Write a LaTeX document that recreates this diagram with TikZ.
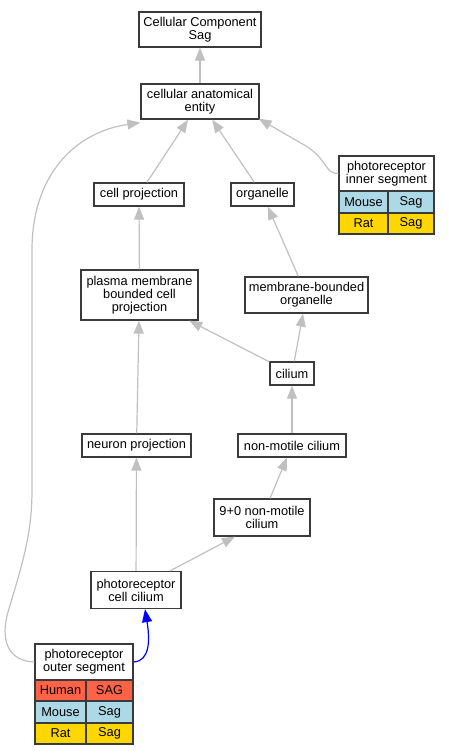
\documentclass[tikz,border=0pt]{standalone}
\usepackage{fontspec}
\setmainfont{Liberation Sans}
\usetikzlibrary{arrows.meta}
\definecolor{edgegray}{HTML}{C0C0C0}
\definecolor{boxline}{HTML}{3A3A3A}
\definecolor{human}{HTML}{FF6347}
\definecolor{mouse}{HTML}{ADD8E6}
\definecolor{rat}{HTML}{FFD700}
\begin{document}
\begin{tikzpicture}[x=1pt,y=-1pt,
  box/.style={draw=boxline, line width=1.3pt, fill=white, inner sep=0pt, align=center,
    font=\fontsize{12.8}{13}\selectfont},
  cell/.style={box, fill=#1},
  edge/.style={draw=edgegray, line width=1.2pt, -{Triangle[length=13pt,width=10pt]}},
  isa/.style={draw=blue, line width=1.2pt, -{Triangle[length=13pt,width=10pt]}, color=blue}]
\useasboundingbox (0,0) rectangle (449,755);
% nodes
\node[box, minimum width=122pt, minimum height=35pt] (cc) at (200,29.5) {Cellular Component\\Sag};
\node[box, minimum width=118pt, minimum height=35pt] (cae) at (200,101.5) {cellular anatomical\\entity};
\node[box, minimum width=90pt, minimum height=23pt] (cp) at (139,194.5) {cell projection};
\node[box, minimum width=63pt, minimum height=23pt] (org) at (262.5,194.5) {organelle};
% photoreceptor inner segment table
\node[box, minimum width=95pt, minimum height=35pt] (pis) at (386.5,173.5) {photoreceptor\\inner segment};
\node[cell=mouse, minimum width=49pt, minimum height=22pt] (pism1) at (363.5,202) {Mouse};
\node[cell=mouse, minimum width=46pt, minimum height=22pt] (pism2) at (411,202) {Sag};
\node[cell=rat, minimum width=49pt, minimum height=21pt] (pisr1) at (363.5,223.5) {Rat};
\node[cell=rat, minimum width=46pt, minimum height=21pt] (pisr2) at (411,223.5) {Sag};
\node[box, minimum width=117pt, minimum height=50pt] (pmb) at (139.5,295) {plasma membrane\\bounded cell\\projection};
\node[box, minimum width=123pt, minimum height=36pt] (mbo) at (306.5,295) {membrane-bounded\\organelle};
\node[box, minimum width=44pt, minimum height=23pt] (cil) at (292,373.5) {cilium};
\node[box, minimum width=109pt, minimum height=23pt] (np) at (136.5,445.5) {neuron projection};
\node[box, minimum width=108pt, minimum height=23pt] (nmc) at (292,445.5) {non-motile cilium};
\node[box, minimum width=96pt, minimum height=37pt] (nine) at (262,517.5) {9+0 non-motile\\cilium};
\node[box, minimum width=90pt, minimum height=37pt] (pcc) at (136,590) {photoreceptor\\cell cilium};
% photoreceptor outer segment table
\node[box, minimum width=98pt, minimum height=36pt] (pos) at (84,662) {photoreceptor\\outer segment};
\node[cell=human, minimum width=51pt, minimum height=21pt] (posh1) at (60.5,690.5) {Human};
\node[cell=human, minimum width=47pt, minimum height=21pt] (posh2) at (109.5,690.5) {SAG};
\node[cell=mouse, minimum width=51pt, minimum height=22pt] (posm1) at (60.5,712) {Mouse};
\node[cell=mouse, minimum width=47pt, minimum height=22pt] (posm2) at (109.5,712) {Sag};
\node[cell=rat, minimum width=51pt, minimum height=21pt] (posr1) at (60.5,733.5) {Rat};
\node[cell=rat, minimum width=47pt, minimum height=21pt] (posr2) at (109.5,733.5) {Sag};
% edges
\draw[edge] (cae) -- (cc);
\draw[edge] (cp) -- (cae);
\draw[edge] (org) -- (cae);
\draw[edge] (pis.west) .. controls +(-14,0) and (328,160) .. (306,146) -- ([xshift=-1pt,yshift=1pt]cae.south east);
\draw[edge] (pmb) -- (cp);
\draw[edge] (mbo) -- (org);
\draw[edge] (cil) -- (pmb);
\draw[edge] (cil) -- (mbo);
\draw[edge] (nmc) -- (cil);
\draw[edge] (np) -- (pmb);
\draw[edge] (nine) -- (nmc);
\draw[edge] ([xshift=34pt]pcc.north) -- ([xshift=-27pt]nine.south);
\draw[edge] (pcc) -- (np);
\draw[edge] (pos.west) .. controls (8,661) and (0,640) .. (8,612) .. controls (22,565) and (32,535) .. (32,490) -- (32,250) .. controls (32,175) and (75,132) .. ([yshift=-3pt]cae.south west);
\draw[isa] (pos.east) .. controls (150,661) and (150,640) .. ([xshift=9pt]pcc.south);
\end{tikzpicture}
\end{document}
